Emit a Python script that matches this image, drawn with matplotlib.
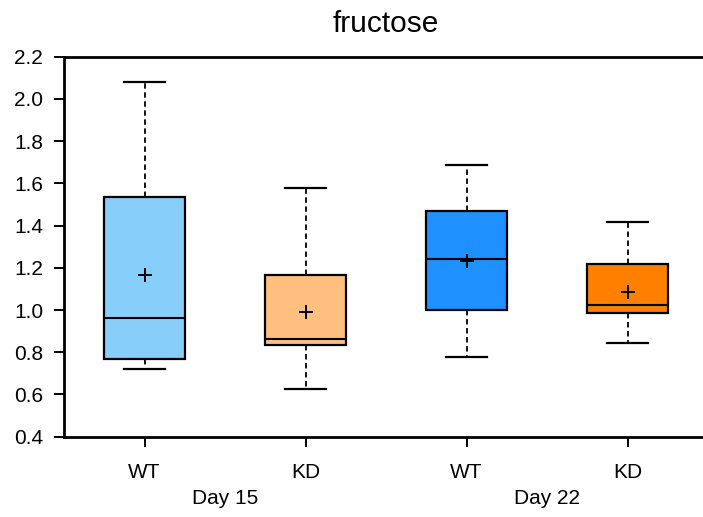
import matplotlib
matplotlib.use("Agg")
import matplotlib.pyplot as plt
from matplotlib.transforms import blended_transform_factory

plt.rcParams['font.family'] = ['Liberation Sans', 'DejaVu Sans']

# Summary statistics of fructose levels per group
groups = ["WT", "KD", "WT", "KD"]
days = ["Day 15", "Day 22"]
whisker_low = [0.719, 0.627, 0.778, 0.845]
q1 = [0.767, 0.834, 1.000, 0.985]
median = [0.961, 0.861, 1.241, 1.024]
q3 = [1.534, 1.166, 1.471, 1.217]
whisker_high = [2.080, 1.577, 1.686, 1.417]
mean = [1.165, 0.989, 1.234, 1.087]
colors = ["#87CEFA", "#FFBF7F", "#1E90FF", "#FF8000"]

stats = [
    dict(whislo=lo, q1=a, med=m, q3=b, whishi=hi, mean=mu, fliers=[])
    for lo, a, m, b, hi, mu in zip(whisker_low, q1, median, q3, whisker_high, mean)
]

fig = plt.figure(figsize=(7.03, 5.17), dpi=100)
ax = fig.add_axes([64 / 703, 1 - 436.7 / 517, 644 / 703, 380 / 517])

positions = [1, 2, 3, 4]
bp = ax.bxp(
    stats, positions=positions, widths=0.5, patch_artist=True, showmeans=True,
    boxprops=dict(linewidth=1.6, edgecolor="black"),
    medianprops=dict(color="black", linewidth=1.5),
    whiskerprops=dict(color="black", linewidth=1.3, linestyle=(0, (3, 2))),
    capprops=dict(color="black", linewidth=1.6),
    meanprops=dict(marker="+", markeredgecolor="black", markersize=9.5, markeredgewidth=1.4),
)
for patch, c in zip(bp["boxes"], colors):
    patch.set_facecolor(c)

ax.set_xlim(0.5, 4.5)
ax.set_ylim(0.4, 2.2)
ax.set_yticks([0.4, 0.6, 0.8, 1.0, 1.2, 1.4, 1.6, 1.8, 2.0, 2.2])
ax.set_yticklabels([f"{v:.1f}" for v in ax.get_yticks()])
ax.set_xticks(positions)
ax.set_xticklabels(groups)
ax.tick_params(axis="both", direction="out", length=7, width=1.4, labelsize=15,
               colors="black")
ax.tick_params(axis="y", pad=8)
ax.tick_params(axis="x", pad=12)

for side in ["left", "bottom", "top", "right"]:
    ax.spines[side].set_linewidth(2)

trans = blended_transform_factory(ax.transData, ax.transAxes)
for xpos, label in zip([1.5, 3.5], days):
    ax.text(xpos, -0.177, label, transform=trans, ha="center", va="baseline", fontsize=15)

ax.set_title("fructose", fontsize=21.5, pad=17.8)

fig.savefig("out.png", dpi=100)
